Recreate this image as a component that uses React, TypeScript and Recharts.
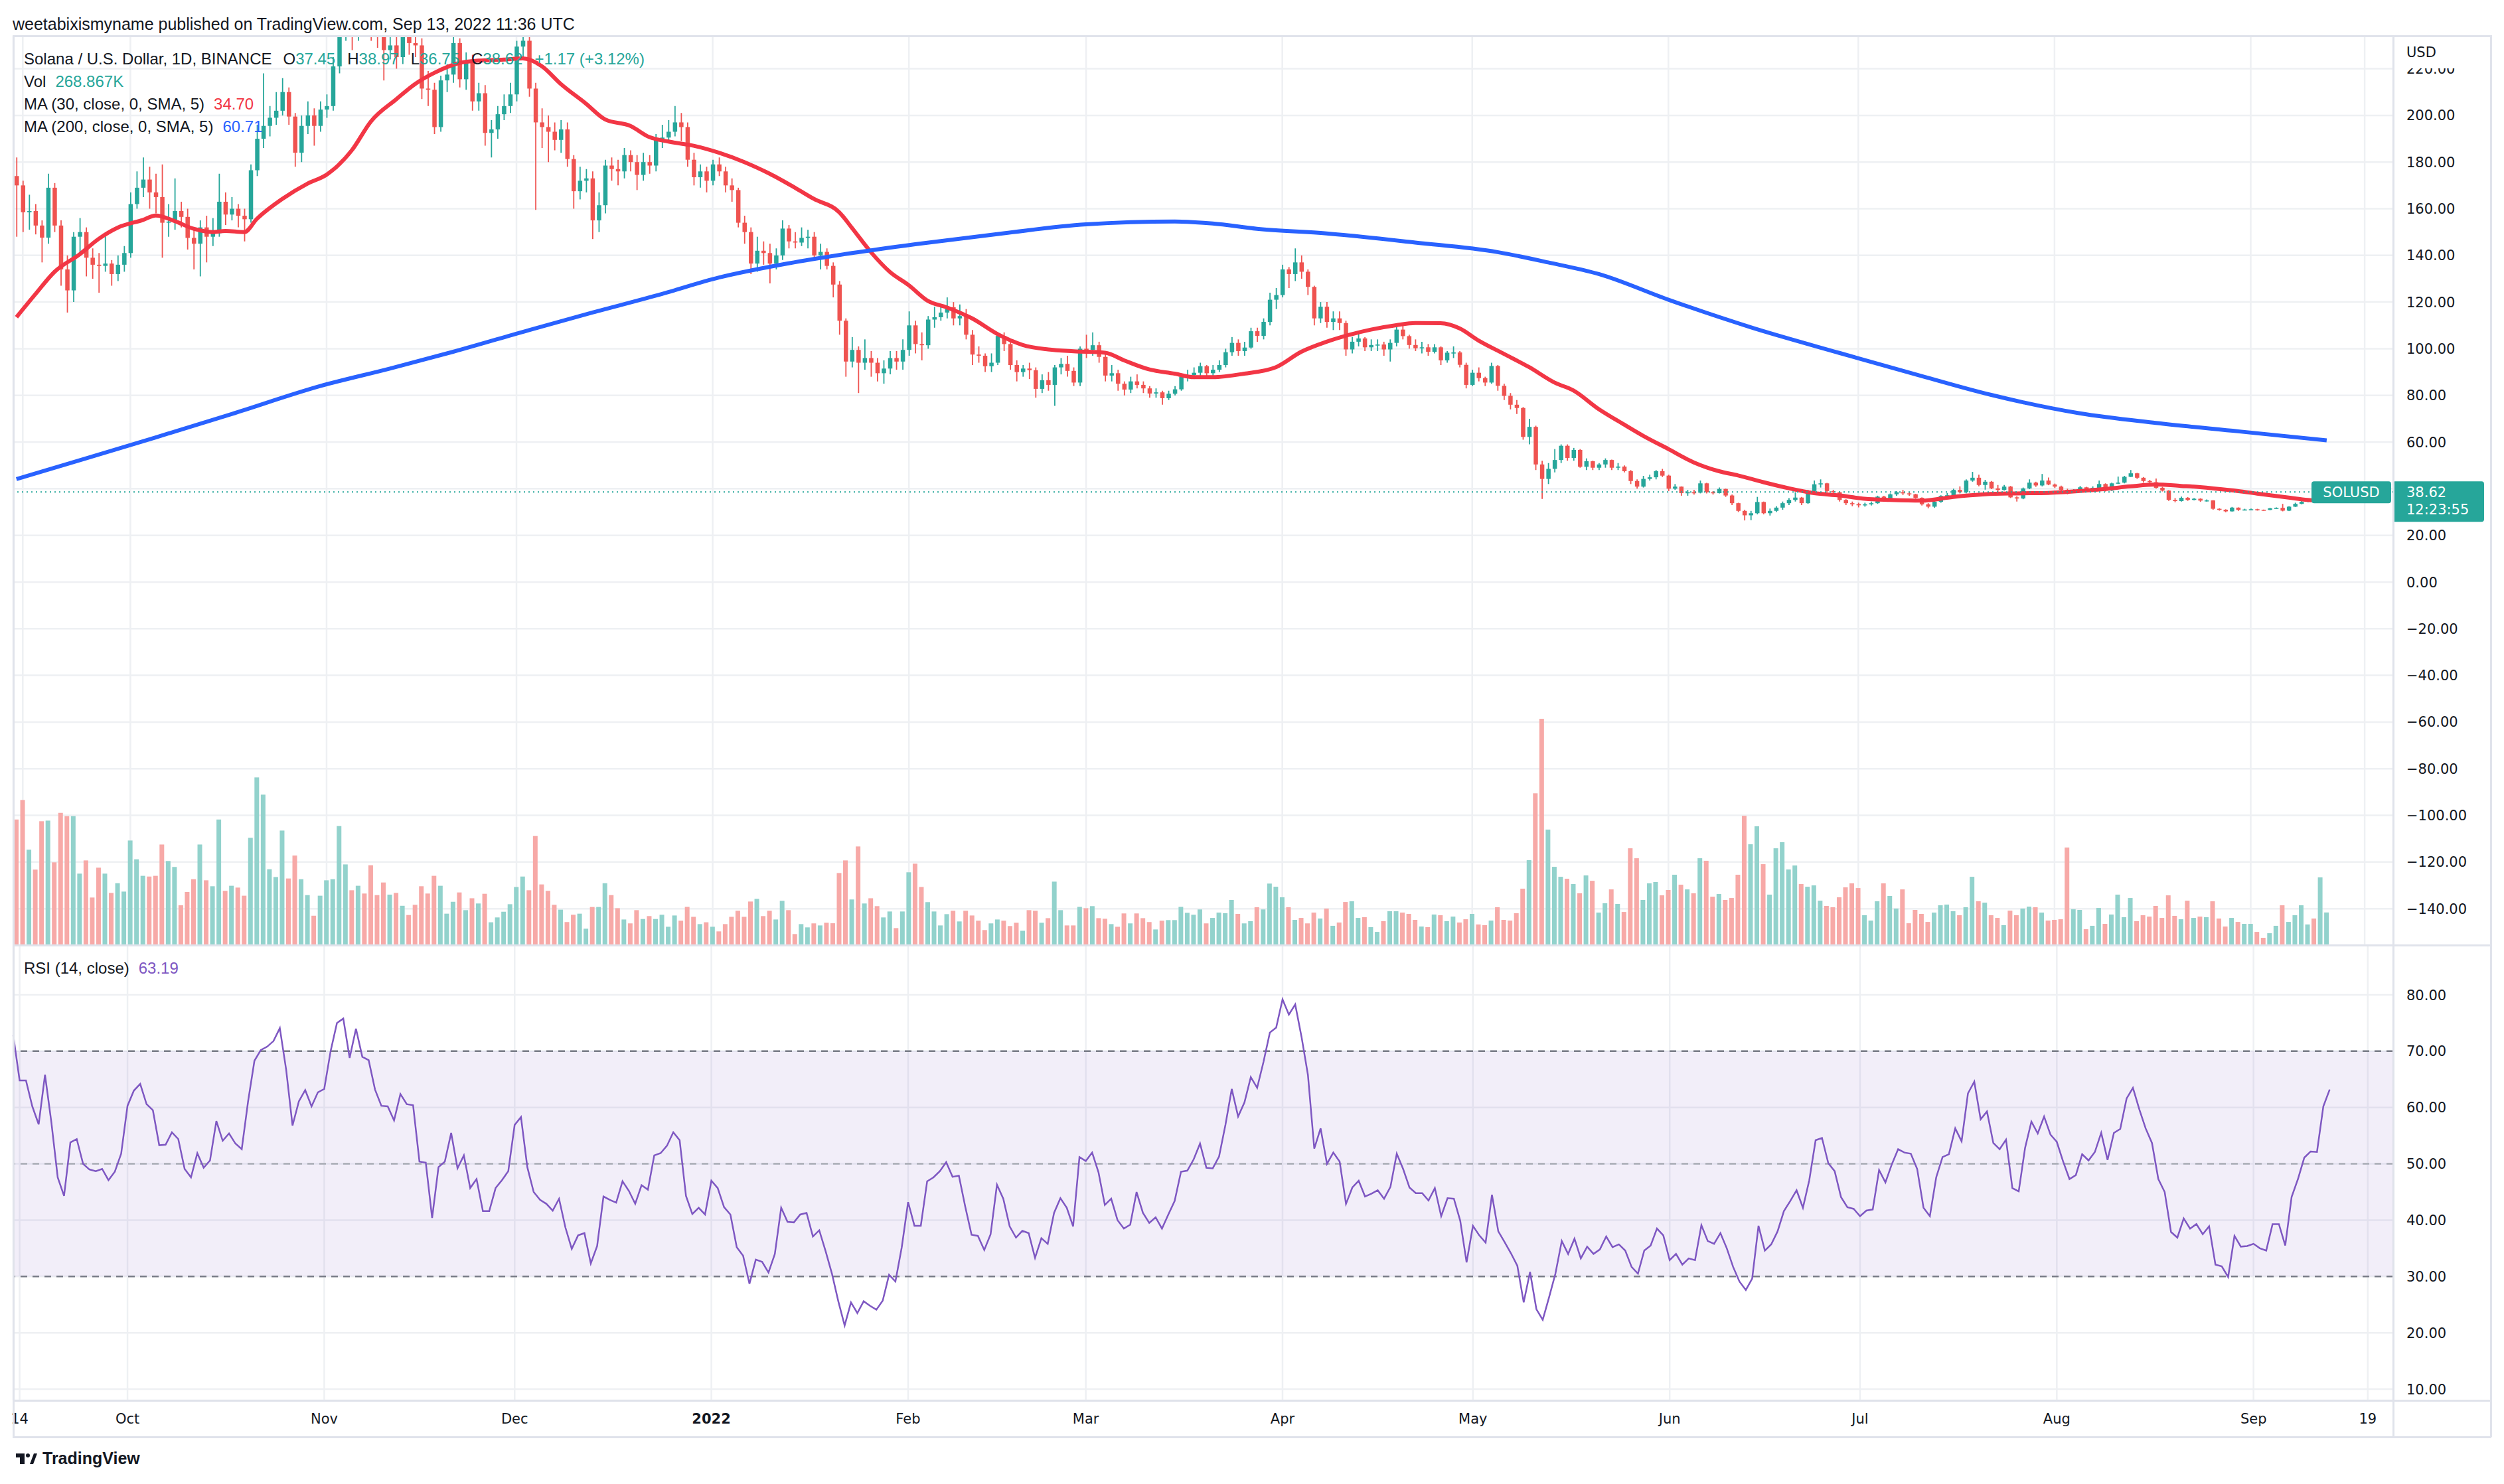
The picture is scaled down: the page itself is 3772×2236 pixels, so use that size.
import React from 'react'
import {
  ComposedChart,
  Bar,
  Line,
  XAxis,
  YAxis,
  CartesianGrid,
  ReferenceLine,
  ReferenceArea,
} from 'recharts'

// Daily SOL/USD candles. Day index 0 = Sep 14 2021,
// the first candle is Sep 13 2021 (index -1), the last Sep 13 2022 (364).
const FIRST_DAY = -1
const FIRST_OPEN = 174
const FUTURE_DAYS = 10

const CLOSE = [
  170, 158.5, 159, 152.8, 147.6, 169, 152.8, 134, 125, 148, 150,
  139, 136, 135.5, 136.5, 132, 136, 141, 162, 169, 172.5,
  167, 165, 154, 154.5, 159, 156.5, 147.5, 145, 152, 148,
  149.5, 163, 157.5, 160, 157, 155.5, 176.5, 190, 195.5, 199,
  202, 210, 199.5, 184, 195.5, 200, 195.5, 202.5, 204, 221,
  238, 245, 236, 252, 243, 241, 234, 228, 230, 225,
  236, 231, 230, 211.5, 211, 195, 215, 217.5, 231, 215.5,
  222.5, 206, 209.5, 192.5, 194, 200.5, 204, 209, 229.5, 232,
  211.5, 197, 195, 193, 189.5, 194, 181.3, 167.5, 172, 173,
  155, 161.5, 178.5, 177, 176, 183, 180, 174.5, 180, 178.5,
  190, 190.5, 193, 197, 195, 181, 173.5, 176, 172, 179,
  176, 170, 168, 154, 150, 136.5, 142, 141, 136.5, 140,
  151.5, 146, 145.5, 147.5, 148, 140, 141.5, 135.5, 127.5, 112,
  94.5, 99.5, 94, 96, 94, 89.5, 91.5, 96, 94.5, 99.5,
  110, 102, 101.5, 112.5, 113.5, 115.5, 117.8, 113, 114, 106,
  97.5, 97, 92.5, 94, 105.5, 102, 93, 90, 91.5, 90.8,
  82.8, 86.5, 84.5, 92, 93.5, 90.5, 85.5, 100, 99.5, 101.5,
  96.5, 88.5, 89.5, 85, 82.5, 86, 84.5, 83, 80.8, 81.3,
  78.8, 80.7, 82.6, 88, 88.7, 89.7, 92.5, 89.5, 91, 93,
  98.5, 102.5, 99, 100.5, 107.5, 105.5, 111.5, 121, 123, 134,
  132, 137, 133, 126.5, 113, 118, 111.5, 113, 111, 99.7,
  103, 104.4, 100.6, 101.6, 101.8, 99.7, 102.5, 108.2, 105.4, 101.6,
  100.2, 100.6, 98.7, 100.6, 95, 98.3, 98.4, 93.1, 84.5, 89.7,
  87.4, 85.5, 92.6, 84.1, 79.8, 76, 74.6, 62.2, 66.5, 50.4,
  44.2, 48.5, 52.3, 58.4, 53.2, 56.6, 49.4, 51.8, 49, 50.4,
  52.3, 49, 49.5, 47.5, 43.3, 40.9, 44.2, 44.9, 47.5, 45.6,
  40, 40.9, 38.1, 38.5, 38.3, 42.3, 38.5, 38.1, 39.9, 37.1,
  33.8, 30.5, 28.6, 29.5, 34.3, 29.5, 30.5, 31.9, 33.8, 35.2,
  36.2, 33.8, 39, 41.9, 42.3, 39, 38.5, 35.2, 33.8, 33.4,
  32.9, 33.3, 33.8, 36.6, 35.7, 37.6, 38.5, 38, 37.6, 36.1,
  33.3, 32.3, 34.4, 36.9, 37.2, 39.5, 38.5, 43.5, 44.7, 41.6,
  43, 40.1, 39.5, 40.9, 36.3, 35.8, 40.1, 42.6, 41.4, 43.5,
  41.8, 40.9, 39.5, 39, 39.2, 40.6, 39.7, 40.4, 42, 39.2,
  42.3, 42.6, 45.1, 46.6, 44.7, 43.3, 42.8, 40.4, 39.2, 35.2,
  34.7, 36.1, 35.2, 35.7, 34.9, 35, 31.4, 31, 30.3, 31.9,
  30.9, 31.1, 31.2, 31, 30.9, 31.6, 31.8, 30.6, 32.3, 33.5,
  34.4, 35, 34.8, 37.45, 38.62,
]

const HIGH = [
  182, 172, 166, 162, 155, 175, 171, 155, 140, 150, 156,
  152, 143, 141, 149, 138, 140, 144, 167, 176, 182,
  178, 175, 179, 162, 173, 163, 160, 151, 155, 157,
  156, 175, 167, 165, 162, 160, 179, 196, 218, 204,
  210, 216, 212, 201, 200, 206, 203, 206, 209, 225,
  245, 252, 250, 259, 255, 248, 245, 238, 236, 234,
  240, 240, 236, 233, 219, 214, 217, 222, 236, 233,
  227, 226, 214, 213, 198, 204, 209, 214, 232, 238,
  236, 214, 203, 200, 197, 198, 197, 183, 178, 177,
  176, 167, 181, 182, 181, 186, 185, 183, 184, 183,
  192, 196, 198, 204, 201, 197, 184, 179, 178, 181,
  182, 178, 173, 169, 157, 152, 148, 146, 145, 143,
  155, 153, 150, 152, 151, 150, 145, 143, 137, 129,
  113, 105, 101, 104, 99, 96, 95, 99, 99, 104,
  116, 112, 107, 114, 118, 119, 122, 120, 119, 117,
  108, 101, 98, 98, 107, 107, 103, 95, 93, 94,
  92, 89, 90, 93, 96, 97, 92, 101, 106, 107,
  103, 98, 93, 91, 86, 88, 89, 86, 84, 83,
  82, 82, 84, 89, 91, 92, 94, 93, 93, 95,
  100, 105, 104, 103, 109, 109, 113, 124, 126, 136,
  135, 143, 140, 134, 127, 120, 120, 116, 116, 112,
  105, 107, 105, 104, 104, 103, 104, 110, 111, 106,
  104, 103, 102, 102, 101, 99, 101, 99, 94, 91,
  92, 88, 94, 93, 85, 81, 78, 75, 70, 67,
  52, 51, 57, 59, 59, 57.5, 57, 53, 52, 51,
  53, 52.5, 51, 50, 48, 44, 45.5, 46, 48, 48.5,
  46, 42, 41, 39.5, 39.5, 43.5, 42.5, 39, 40.5, 40,
  37.5, 34, 31, 30.5, 36.5, 34.5, 31.5, 32.5, 34.5, 36,
  38.5, 36.5, 39.5, 43.5, 44, 42.5, 39.5, 38.8, 35.5, 34.5,
  34, 34, 34.5, 37, 37, 38, 39, 39.5, 38.5, 37.8,
  36.3, 33.8, 34.8, 37.2, 38.2, 40, 41, 44, 47.2, 46,
  43.8, 43.3, 41.6, 41.6, 41.2, 36.8, 40.5, 44, 43, 46.3,
  44.8, 42.2, 41.3, 40, 39.8, 41.2, 40.8, 41, 43.5, 42.3,
  42.6, 45.2, 45.5, 48, 46.8, 45, 43.8, 44.4, 40.8, 39.4,
  36, 36.6, 36.4, 36, 35.9, 35.4, 35.1, 31.6, 31.2, 32.2,
  32, 31.4, 31.5, 31.4, 31.1, 31.8, 32, 33.5, 32.5, 34,
  35, 35.5, 35.4, 37.9, 38.97,
]

const LOW = [
  148, 150, 151, 149, 137, 145, 150, 127, 115.5, 120, 140,
  131, 130, 124, 133, 127, 129, 133, 139, 160, 165,
  160, 158, 139, 148, 151, 152, 142.5, 134, 131, 137,
  144, 148, 153, 155, 152, 146, 154, 174, 186, 191,
  196, 200, 196, 178, 180, 192, 187, 193, 199, 202,
  218, 232, 228, 232, 238, 232, 229, 215, 224, 220,
  222, 226, 225, 207, 204, 192, 193, 210, 214, 212,
  211, 202, 202, 187, 182, 190, 198, 201, 206, 225,
  208, 159.5, 186, 180, 185, 184, 178, 160, 164, 167,
  147, 150, 158, 172, 170, 173, 176, 168, 172, 175,
  176, 186, 188, 191, 189, 178, 170, 169, 167, 170,
  174, 167, 163, 152, 145, 132, 133, 136, 128, 134,
  138, 143, 143, 144, 143, 138, 134, 134, 122, 106,
  88, 92, 81, 91, 88, 86, 85, 89, 91, 91,
  97, 98, 95, 100, 109, 112, 113, 110, 110, 104,
  93, 94, 90, 90, 93, 99, 91, 86, 88, 87,
  79, 81, 82, 75.5, 89, 88, 84, 84, 96, 97,
  94, 86, 86, 82, 80, 81, 83, 81, 79, 79,
  76, 78, 80, 82, 86, 87, 88, 88, 88, 90,
  92, 97, 97, 97, 100, 103, 104, 110, 117, 122,
  126, 129, 130, 123, 110, 111, 109, 108, 108, 97,
  98, 101, 99, 99, 99, 97, 94.5, 101, 104, 100,
  99, 98, 97, 98, 93, 94, 96, 92, 83, 84,
  86, 84, 85, 82, 78, 74, 72, 61, 59, 48,
  35.6, 42, 47, 51, 52, 52, 49, 48, 48, 48,
  49, 48, 48, 47, 42, 40, 40.5, 43.5, 44, 45,
  39, 39.5, 37, 37, 37.5, 38, 38, 37.5, 38, 36.5,
  33, 30, 26.4, 26.5, 29, 29, 28.5, 30, 31, 33,
  34.5, 33, 33.5, 38.5, 40.5, 38.5, 37.5, 34.5, 33, 32.5,
  32, 32.3, 32.8, 33.5, 35, 35.5, 37, 37.3, 37, 35.8,
  32.8, 31.6, 31.8, 34, 36.5, 36.8, 38, 38, 43, 41,
  39.6, 39.8, 38.5, 39.2, 36, 34.5, 35.5, 39.8, 40.8, 41,
  41.5, 40.3, 39, 37.6, 38.5, 39, 39.3, 39.5, 40.2, 38.8,
  39, 42, 42.3, 45, 44.2, 42.6, 42, 40, 38.8, 34.8,
  34.2, 34.5, 34.8, 35, 34.4, 34.5, 31, 30.6, 29.9, 30.2,
  30.5, 30.7, 30.8, 30.6, 30.6, 30.8, 31.4, 30.3, 30.4, 32.2,
  33.3, 34.2, 34.4, 34.6, 36.75,
]

// volume in thousands of SOL
const VOLUME_K = [
  1035, 1196, 786, 622, 1021, 1026, 682, 1090, 1063, 1063, 589,
  698, 392, 638, 589, 430, 510, 441, 862, 707, 571,
  565, 571, 829, 693, 644, 328, 438, 543, 829, 534,
  485, 1035, 447, 489, 474, 407, 884, 1382, 1240, 625,
  561, 944, 549, 738, 543, 412, 242, 407, 534, 543,
  981, 665, 452, 489, 425, 658, 412, 516, 416, 430,
  324, 248, 332, 485, 425, 571, 489, 259, 357, 434,
  288, 386, 343, 423, 188, 228, 275, 337, 479, 565,
  452, 899, 500, 447, 332, 292, 190, 250, 259, 135,
  314, 314, 510, 412, 304, 211, 179, 288, 215, 239,
  215, 250, 151, 244, 201, 315, 233, 173, 188, 151,
  113, 173, 233, 283, 233, 359, 381, 239, 283, 211,
  365, 288, 91, 173, 146, 179, 162, 184, 180, 594,
  698, 376, 813, 343, 386, 321, 228, 277, 140, 277,
  600, 671, 479, 354, 277, 162, 255, 283, 195, 283,
  244, 201, 124, 179, 211, 201, 157, 184, 118, 288,
  283, 184, 222, 523, 288, 162, 162, 315, 304, 321,
  222, 217, 173, 151, 261, 179, 261, 222, 190, 129,
  201, 206, 206, 315, 266, 250, 294, 179, 224, 268,
  263, 372, 257, 179, 197, 312, 294, 507, 481, 394,
  312, 208, 224, 179, 268, 219, 301, 159, 186, 355,
  361, 224, 230, 148, 109, 197, 279, 279, 268, 257,
  208, 153, 148, 252, 246, 197, 235, 186, 213, 257,
  170, 164, 202, 312, 208, 202, 263, 465, 700, 1251,
  1865, 952, 645, 563, 547, 503, 427, 574, 530, 268,
  345, 459, 339, 273, 798, 716, 372, 509, 520, 410,
  454, 580, 498, 459, 427, 716, 695, 399, 421, 372,
  388, 580, 1066, 831, 979, 667, 416, 798, 848, 623,
  656, 503, 481, 492, 366, 323, 312, 394, 476, 509,
  470, 246, 202, 361, 509, 405, 301, 459, 180, 290,
  257, 191, 268, 328, 334, 279, 246, 312, 563, 361,
  350, 246, 224, 164, 284, 246, 301, 317, 312, 268,
  202, 208, 213, 804, 295, 290, 131, 159, 306, 175,
  252, 416, 230, 388, 197, 246, 235, 323, 224, 410,
  241, 213, 366, 224, 235, 230, 361, 219, 153, 224,
  191, 175, 175, 109, 60, 98, 159, 328, 191, 246,
  328, 170, 219, 558, 268.867,
]

const RSI = [
  72.8, 64.8, 64.8, 60.2, 57.0, 65.8, 57.4, 47.6, 44.3, 53.8, 54.4,
  50.0, 49.0, 48.7, 49.1, 47.1, 48.6, 51.8, 60.3, 63.0, 64.2,
  60.6, 59.5, 53.3, 53.4, 55.6, 54.4, 49.1, 47.6, 51.9, 49.3,
  50.6, 57.6, 54.1, 55.4, 53.6, 52.6, 61.1, 68.3, 70.2, 70.8,
  71.8, 74.1, 66.7, 56.8, 61.1, 63.1, 60.2, 62.7, 63.3, 70.0,
  75.0, 75.8, 68.8, 74.0, 69.0, 68.4, 63.2, 60.3, 60.2, 57.7,
  62.4, 60.6, 60.4, 50.4, 50.2, 40.4, 49.4, 50.4, 55.5, 49.2,
  51.5, 45.7, 47.3, 41.6, 41.6, 45.7, 47.1, 48.7, 56.9, 58.3,
  49.4, 45.0, 43.6, 42.9, 41.7, 43.8, 38.7, 34.9, 37.3, 37.7,
  32.3, 35.4, 44.2, 43.6, 43.1, 46.9, 45.2, 42.9, 46.2, 45.4,
  51.5, 51.9, 53.2, 55.6, 54.2, 44.3, 41.1, 42.2, 41.0, 47.0,
  45.7, 42.3, 41.0, 35.2, 33.7, 28.7, 33.0, 32.6, 30.7, 34.0,
  42.2, 39.7, 39.6, 41.0, 41.3, 37.1, 38.2, 34.5, 30.5, 25.6,
  21.3, 25.4, 23.5, 25.6, 24.8, 24.1, 25.7, 30.3, 29.1, 35.2,
  43.2, 39.0, 39.0, 46.9, 47.6, 48.7, 50.3, 47.7, 47.9, 42.4,
  37.4, 37.2, 34.7, 37.5, 46.3, 43.8, 38.9, 36.9, 38.1, 37.7,
  33.3, 36.8, 35.8, 41.3, 43.9, 42.2, 38.9, 51.2, 50.5, 52.0,
  48.5, 42.7, 43.8, 40.0, 38.5, 39.2, 45.0, 41.3, 39.5, 40.5,
  38.5, 41.0, 43.4, 48.6, 48.8, 50.8, 53.6, 49.3, 49.2, 51.3,
  56.9, 63.3, 58.4, 60.9, 65.4, 63.5, 68.1, 73.3, 74.2, 79.2,
  76.5, 78.3, 72.5, 65.8, 52.7, 56.3, 50.0, 52.0, 50.4, 42.9,
  45.8, 47.0, 44.2, 44.7, 45.3, 43.8, 45.9, 51.8, 49.1, 45.8,
  44.8, 44.8, 43.5, 45.7, 40.7, 43.9, 43.8, 39.9, 32.5, 39.0,
  37.3, 36.0, 44.5, 38.0, 36.1, 34.1, 31.9, 25.4, 30.8, 24.2,
  22.3, 26.3, 30.5, 36.3, 34.0, 36.7, 33.2, 35.3, 34.0, 34.8,
  37.1, 35.2, 35.7, 34.6, 31.7, 30.5, 34.6, 35.5, 38.5, 37.3,
  32.9, 34.0, 32.1, 33.2, 32.9, 39.1, 36.3, 35.8, 37.7, 35.0,
  31.7, 29.1, 27.6, 29.6, 39.0, 34.6, 35.7, 38.0, 41.6, 43.4,
  45.3, 42.2, 47.1, 54.2, 54.6, 50.1, 48.7, 44.1, 42.3, 42.0,
  40.7, 41.7, 41.9, 48.9, 46.7, 49.9, 52.6, 52.0, 51.8, 49.1,
  42.2, 40.7, 47.6, 51.2, 51.7, 56.3, 54.0, 62.5, 64.6, 57.9,
  59.3, 53.7, 52.6, 54.3, 45.7, 45.1, 52.8, 57.5, 55.4, 58.4,
  55.2, 53.9, 50.4, 47.3, 48.0, 51.7, 50.6, 52.1, 55.5, 50.7,
  55.5, 56.2, 61.6, 63.5, 59.7, 56.3, 53.7, 47.3, 45.0, 37.9,
  36.9, 40.3, 38.5, 39.3, 37.5, 38.9, 32.1, 31.8, 29.9, 37.2,
  35.3, 35.4, 35.8, 35.0, 34.6, 39.3, 39.3, 35.5, 44.1, 47.3,
  51.1, 52.2, 52.1, 60.2, 63.19,
]

// moving averages, read at the days listed
const MA30_DAY = [
  -1, 2, 5, 9, 12, 15, 19, 21, 24, 27, 30, 32, 35, 37, 41, 45, 48, 52, 55, 59,
  62, 65, 69, 72, 76, 79, 82, 85, 89, 92, 96, 99, 102, 106, 110, 114, 118, 122, 125, 129,
  131, 134, 137, 140, 143, 146, 150, 154, 158, 162, 166, 171, 174, 178, 182, 185, 188, 193, 198, 202,
  206, 213, 217, 220, 224, 227, 230, 234, 238, 242, 245, 249, 253, 256, 260, 264, 268, 271, 275, 279,
  283, 287, 291, 295, 300, 305, 310, 315, 320, 325, 329, 333, 337, 341, 344, 349, 353, 358, 361, 364,
]
const MA30_VAL = [
  113.5, 123.4, 132.9, 140.5, 147.1, 151.9, 155.2, 157.1, 154.7, 151.4, 150.0, 150.5, 150.0, 155.7, 164.2, 170.8, 174.6, 185.1, 197.4, 206.9,
  213.5, 218.2, 222.5, 223.5, 223.9, 224.4, 221.1, 213.5, 205.0, 198.3, 195.5, 190.7, 188.8, 187.0, 184.0, 180.0, 175.0, 169.0, 164.2, 158.5,
  151.8, 141.4, 132.9, 127.2, 120.5, 117.7, 113.0, 106.3, 101.6, 99.7, 98.9, 98.3, 95.0, 91.1, 89.3, 87.8, 87.8, 89.3, 92.1, 98.7,
  103.0, 108.2, 110.1, 111.0, 110.9, 108.7, 103.5, 97.8, 92.1, 85.5, 82.1, 74.1, 67.5, 62.7, 57.0, 51.3, 47.5, 45.7, 42.8, 40.2,
  38.1, 37.1, 35.7, 35.2, 34.9, 36.5, 37.6, 38.0, 38.2, 39.0, 39.9, 41.0, 41.8, 41.2, 40.7, 39.3, 37.9, 36.2, 35.2, 34.7,
]
const MA200_DAY = [
  -1, 10, 21, 33, 47, 58, 68, 80, 90, 101, 110, 121, 131, 141, 155, 168, 182,
  188, 195, 206, 220, 233, 241, 249, 260, 273, 287, 300, 311, 325, 337, 350, 364,
]
const MA200_VAL = [
  44.1, 53, 62, 72, 84, 91.5, 98.7, 108, 115.5, 123.5, 130.5, 136.6, 141, 144.8, 149.5, 153.3, 154.5,
  153.7, 151.4, 149.4, 145.5, 141.4, 137, 132, 121, 109.2, 98.2, 88.3, 80.2, 72.3, 68.2, 64.6, 60.71,
]

const TICK_DAYS = [0, 17, 48, 78, 109, 140, 168, 199, 229, 260, 290, 321, 352, 370]
const TICK_LABELS = ['14', 'Oct', 'Nov', 'Dec', '2022', 'Feb', 'Mar', 'Apr', 'May', 'Jun', 'Jul', 'Aug', 'Sep', '19']
const PRICE_TICKS = [-140, -120, -100, -80, -60, -40, -20, 0, 20, 40, 60, 80, 100, 120, 140, 160, 180, 200, 220]
const RSI_TICKS = [10, 20, 30, 40, 50, 60, 70, 80]

// ---- layout ----
const W = 3772
const H = 2236
const FRAME_L = 20
const FRAME_R = 3752
const TOP = 54
const SPLIT = 1424
const RSI_BOTTOM = 2110
const FRAME_B = 2165
const AXIS_X = 3605
const AXIS_W = FRAME_R - AXIS_X
const RSI_H = FRAME_B - SPLIT
const RSI_PLOT_H = RSI_BOTTOM - SPLIT

const PRICE_DOMAIN = [-155.6, 234.1]
const VOL_DOMAIN = [0, 7494]
const RSI_DOMAIN = [8.0, 88.84]

const UP = '#26a69a'
const DOWN = '#ef5350'
const VOL_UP = '#92d2cc'
const VOL_DOWN = '#f7a9a7'
const MA30_COLOR = '#f23645'
const MA200_COLOR = '#2962ff'
const RSI_COLOR = '#7e57c2'
const TEXT = '#131722'
const GRID = '#eef0f3'
const FRAME = '#e0e3eb'
const UI_FONT = '"Liberation Sans", Arial, sans-serif'
const AXIS_FONT = '"DejaVu Sans", sans-serif'

const ma30 = new Map(MA30_DAY.map((d, k) => [d, MA30_VAL[k]]))
const ma200 = new Map(MA200_DAY.map((d, k) => [d, MA200_VAL[k]]))

const rows: any[] = []
for (let i = 0; i < CLOSE.length + FUTURE_DAYS; i++) {
  const d = FIRST_DAY + i
  if (i >= CLOSE.length) {
    rows.push({ d })
    continue
  }
  const o = i === 0 ? FIRST_OPEN : CLOSE[i - 1]
  rows.push({
    d,
    o,
    h: HIGH[i],
    l: LOW[i],
    c: CLOSE[i],
    range: [LOW[i], HIGH[i]],
    vol: VOLUME_K[i],
    rsi: RSI[i],
    ma30: ma30.get(d) ?? null,
    ma200: ma200.get(d) ?? null,
  })
}

const n = CLOSE.length
const LAST = CLOSE[n - 1]
const LAST_OPEN = CLOSE[n - 2]
const CHANGE = LAST - LAST_OPEN

const fmt = (v: number) => (v < 0 ? '\u2212' : '') + Math.abs(v).toFixed(2)

function Candle(props: any) {
  const { x, y, width, height } = props
  const p = props.payload ?? props
  if (!p || p.c == null || !isFinite(y)) return null
  const span = p.h - p.l
  const at = (v: number) => (span > 0 ? y + ((p.h - v) / span) * height : y)
  const color = p.c >= p.o ? UP : DOWN
  const cx = x + width / 2
  const top = at(Math.max(p.o, p.c))
  const bottom = at(Math.min(p.o, p.c))
  return (
    <g>
      <line x1={cx} x2={cx} y1={y} y2={y + height} stroke={color} strokeWidth={1.8} />
      <rect x={x} y={top} width={width} height={Math.max(bottom - top, 1.6)} fill={color} />
    </g>
  )
}

function VolumeBar(props: any) {
  const { x, y, width, height } = props
  const p = props.payload ?? props
  if (!p || p.c == null) return null
  return <rect x={x} y={y} width={width} height={height} fill={p.c >= p.o ? VOL_UP : VOL_DOWN} />
}

// the last-price tag covers the axis label next to it, as on the original
function PriceTick(props: any) {
  const { y, payload } = props
  if (Math.abs(payload.value - LAST) < 6) return null
  return (
    <text x={AXIS_X + 20} y={y} dy="0.36em" fontFamily={AXIS_FONT} fontSize={21} fill={TEXT}>
      {fmt(payload.value)}
    </text>
  )
}

function RsiTick(props: any) {
  const { y, payload } = props
  return (
    <text x={AXIS_X + 20} y={y} dy="0.36em" fontFamily={AXIS_FONT} fontSize={21} fill={TEXT}>
      {fmt(payload.value)}
    </text>
  )
}

function TimeTick(props: any) {
  const { x, payload } = props
  const label = TICK_LABELS[TICK_DAYS.indexOf(payload.value)] ?? ''
  return (
    <text
      x={x}
      y={RSI_PLOT_H + 27}
      dy="0.36em"
      textAnchor="middle"
      fontFamily={AXIS_FONT}
      fontSize={21}
      fontWeight={label === '2022' ? 'bold' : 'normal'}
      fill={TEXT}
    >
      {label}
    </text>
  )
}

function LastPriceTag(props: any) {
  const vy = props.viewBox?.y ?? 0
  return (
    <g>
      <rect x={AXIS_X - 123} y={vy - 16} width={120} height={33} rx={4} fill={UP} />
      <text x={AXIS_X - 63} y={vy} dy="0.36em" textAnchor="middle" fill="#fff" fontFamily={AXIS_FONT} fontSize={21}>
        SOLUSD
      </text>
      <rect x={AXIS_X - 1} y={vy - 16} width={138} height={61} rx={4} fill={UP} />
      <text x={AXIS_X + 20} y={vy} dy="0.36em" fill="#fff" fontFamily={AXIS_FONT} fontSize={21}>
        {LAST.toFixed(2)}
      </text>
      <text x={AXIS_X + 20} y={vy + 26} dy="0.36em" fill="#fff" fontFamily={AXIS_FONT} fontSize={21}>
        12:23:55
      </text>
    </g>
  )
}

const line = (left: number, top: number, width: number, height: number) => (
  <div style={{ position: 'absolute', left, top, width, height, background: FRAME }} />
)

const legendRow = (top: number, children: React.ReactNode) => (
  <div
    style={{
      position: 'absolute',
      left: 36,
      top,
      fontFamily: UI_FONT,
      fontSize: 24,
      lineHeight: 1,
      color: TEXT,
      whiteSpace: 'nowrap',
    }}
  >
    {children}
  </div>
)

export default function App() {
  return (
    <div style={{ position: 'relative', width: W, height: H, background: '#fff', overflow: 'hidden' }}>
      <style>{'body{margin:0;background:#fff}'}</style>

      {/* price pane with volume */}
      <div style={{ position: 'absolute', left: 0, top: 0 }}>
        <ComposedChart width={W} height={SPLIT} data={rows} margin={{ top: TOP, right: W - FRAME_R, bottom: 0, left: FRAME_L }}>
          <XAxis xAxisId="x" dataKey="d" type="category" hide ticks={TICK_DAYS} interval={0} />
          <XAxis xAxisId="v" dataKey="d" type="category" hide />
          <YAxis
            yAxisId="p"
            orientation="right"
            width={AXIS_W}
            domain={PRICE_DOMAIN}
            allowDataOverflow
            ticks={PRICE_TICKS}
            interval={0}
            axisLine={false}
            tickLine={false}
            tick={<PriceTick />}
          />
          <YAxis yAxisId="v" hide domain={VOL_DOMAIN} />
          <CartesianGrid xAxisId="x" yAxisId="p" stroke={GRID} strokeWidth={2.5} />
          <Bar xAxisId="v" yAxisId="v" dataKey="vol" barSize={7} shape={<VolumeBar />} isAnimationActive={false} />
          <Bar xAxisId="x" yAxisId="p" dataKey="range" barSize={6.5} shape={<Candle />} isAnimationActive={false} />
          <Line
            xAxisId="x"
            yAxisId="p"
            dataKey="ma30"
            type="monotone"
            stroke={MA30_COLOR}
            strokeWidth={6}
            dot={false}
            connectNulls
            isAnimationActive={false}
          />
          <Line
            xAxisId="x"
            yAxisId="p"
            dataKey="ma200"
            type="monotone"
            stroke={MA200_COLOR}
            strokeWidth={6}
            dot={false}
            connectNulls
            isAnimationActive={false}
          />
          <ReferenceLine
            xAxisId="x"
            yAxisId="p"
            y={LAST}
            stroke={UP}
            strokeWidth={2}
            strokeDasharray="2 5"
            label={<LastPriceTag />}
          />
        </ComposedChart>
      </div>

      {/* RSI pane */}
      <div style={{ position: 'absolute', left: 0, top: SPLIT }}>
        <ComposedChart width={W} height={RSI_H} data={rows} margin={{ top: 0, right: W - FRAME_R, bottom: 0, left: FRAME_L }}>
          <XAxis
            dataKey="d"
            type="category"
            ticks={TICK_DAYS}
            interval={0}
            height={RSI_H - RSI_PLOT_H}
            axisLine={false}
            tickLine={false}
            tick={<TimeTick />}
          />
          <YAxis
            orientation="right"
            width={AXIS_W}
            domain={RSI_DOMAIN}
            allowDataOverflow
            ticks={RSI_TICKS}
            interval={0}
            axisLine={false}
            tickLine={false}
            tick={<RsiTick />}
          />
          <CartesianGrid stroke={GRID} strokeWidth={2.5} />
          <ReferenceArea y1={30} y2={70} fill={RSI_COLOR} fillOpacity={0.1} stroke="none" />
          <ReferenceLine y={70} stroke="#787b86" strokeWidth={2.5} strokeDasharray="10 8" />
          <ReferenceLine y={50} stroke="#a9acb5" strokeWidth={2.5} strokeDasharray="10 8" />
          <ReferenceLine y={30} stroke="#787b86" strokeWidth={2.5} strokeDasharray="10 8" />
          <Line dataKey="rsi" type="linear" stroke={RSI_COLOR} strokeWidth={2.5} dot={false} isAnimationActive={false} />
        </ComposedChart>
      </div>

      {/* frame */}
      {line(FRAME_L - 1, TOP - 1, FRAME_R - FRAME_L + 2, 2.5)}
      {line(FRAME_L - 1, SPLIT - 1, FRAME_R - FRAME_L + 2, 2.5)}
      {line(FRAME_L - 1, RSI_BOTTOM - 1, FRAME_R - FRAME_L + 2, 2.5)}
      {line(FRAME_L - 1, FRAME_B - 1, FRAME_R - FRAME_L + 2, 2.5)}
      {line(FRAME_L - 1, TOP - 1, 2.5, FRAME_B - TOP + 1)}
      {line(FRAME_R - 1, TOP - 1, 2.5, FRAME_B - TOP + 1)}
      {line(AXIS_X - 1, TOP - 1, 2.5, FRAME_B - TOP + 1)}

      {/* currency label over the top tick */}
      <div
        style={{
          position: 'absolute',
          left: AXIS_X + 2,
          top: TOP + 2,
          width: AXIS_W - 4,
          height: 47,
          background: '#fff',
          fontFamily: AXIS_FONT,
          fontSize: 21,
          color: TEXT,
          lineHeight: '47px',
          paddingLeft: 18,
          boxSizing: 'border-box',
        }}
      >
        USD
      </div>

      {/* header */}
      <div
        style={{
          position: 'absolute',
          left: 19,
          top: 24,
          fontFamily: UI_FONT,
          fontSize: 25,
          lineHeight: 1,
          color: TEXT,
          whiteSpace: 'nowrap',
        }}
      >
        weetabixismyname published on TradingView.com, Sep 13, 2022 11:36 UTC
      </div>

      {legendRow(
        76.5,
        <>
          <span>Solana / U.S. Dollar, 1D, BINANCE</span>
          <span style={{ marginLeft: 17 }}>O</span>
          <span style={{ color: UP }}>{LAST_OPEN.toFixed(2)}</span>
          <span style={{ marginLeft: 18 }}>H</span>
          <span style={{ color: UP }}>{HIGH[n - 1].toFixed(2)}</span>
          <span style={{ marginLeft: 18 }}>L</span>
          <span style={{ color: UP }}>{LOW[n - 1].toFixed(2)}</span>
          <span style={{ marginLeft: 18 }}>C</span>
          <span style={{ color: UP }}>{LAST.toFixed(2)}</span>
          <span style={{ color: UP, marginLeft: 18 }}>
            +{CHANGE.toFixed(2)} (+{((CHANGE / LAST_OPEN) * 100).toFixed(2)}%)
          </span>
        </>,
      )}
      {legendRow(
        110.7,
        <>
          <span>Vol</span>
          <span style={{ color: UP, marginLeft: 14 }}>{VOLUME_K[n - 1].toFixed(3)}K</span>
        </>,
      )}
      {legendRow(
        144.7,
        <>
          <span>MA (30, close, 0, SMA, 5)</span>
          <span style={{ color: MA30_COLOR, marginLeft: 14 }}>{MA30_VAL[MA30_VAL.length - 1].toFixed(2)}</span>
        </>,
      )}
      {legendRow(
        179,
        <>
          <span>MA (200, close, 0, SMA, 5)</span>
          <span style={{ color: MA200_COLOR, marginLeft: 14 }}>{MA200_VAL[MA200_VAL.length - 1].toFixed(2)}</span>
        </>,
      )}
      {legendRow(
        1446.7,
        <>
          <span>RSI (14, close)</span>
          <span style={{ color: RSI_COLOR, marginLeft: 14 }}>{RSI[n - 1].toFixed(2)}</span>
        </>,
      )}

      {/* TradingView mark */}
      <div style={{ position: 'absolute', left: 24, top: 2183, display: 'flex', alignItems: 'center', gap: 8 }}>
        <svg width={32} height={20} viewBox="0 0 32 20">
          <rect x={0} y={2} width={13} height={6} fill={TEXT} />
          <rect x={6} y={2} width={7} height={16} fill={TEXT} />
          <circle cx={18} cy={5} r={3} fill={TEXT} />
          <polygon points="21,18 27,2 32,2 26,18" fill={TEXT} />
        </svg>
        <span style={{ fontFamily: UI_FONT, fontSize: 25, fontWeight: 'bold', color: TEXT }}>TradingView</span>
      </div>
    </div>
  )
}
